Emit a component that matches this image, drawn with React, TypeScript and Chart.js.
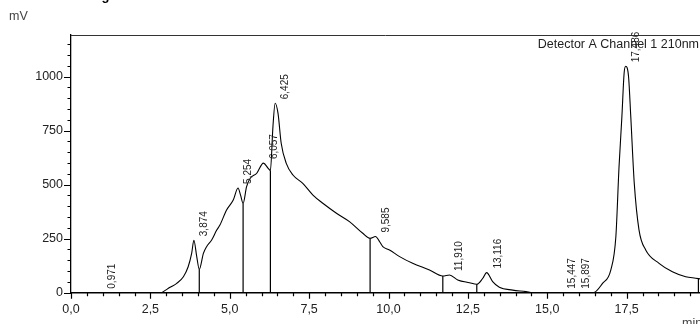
import { useEffect, useRef } from "react";
import { Chart, registerables } from "chart.js";
Chart.register(...registerables);

const FONT = '"Liberation Sans", Arial, Helvetica, sans-serif';

// Chromatogram trace (min, mV)
const timeMin = [
  0, 2.85, 2.91, 3.12, 3.33, 3.54, 3.69, 3.8, 3.87, 3.96, 4.04, 4.17, 4.27, 4.43, 4.59, 4.69, 4.9, 5.11,
  5.26, 5.34, 5.42, 5.53, 5.64, 5.85, 6.06, 6.21, 6.28, 6.36, 6.43, 6.52, 6.62, 6.78, 6.99, 7.3, 7.62,
  7.93, 8.36, 8.77, 9.19, 9.42, 9.59, 9.72, 9.82, 10.03, 10.35, 10.76, 11.29, 11.71, 11.92, 12.18,
  12.55, 12.78, 12.97, 13.09, 13.28, 13.49, 13.91, 14.33, 14.54, 16.45, 16.74, 17.0, 17.16, 17.26,
  17.35, 17.42, 17.47, 17.56, 17.63, 17.74, 17.89, 18.1, 18.52, 18.94, 19.36, 19.67, 19.81,
];
const signalMv = [
  0, 0, 5, 25, 43, 74, 120, 182, 243, 167, 108, 182, 213, 244, 290, 313, 383, 429,
  485, 452, 414, 491, 529, 553, 600, 576, 566, 769, 877, 830, 692, 599, 545, 506, 452,
  414, 368, 329, 275, 252, 260, 236, 213, 198, 167, 136, 105, 77, 82, 59,
  46, 39, 67, 93, 51, 25, 12, 5, 0, 0, 43, 105, 259, 583,
  815, 1016, 1048, 1000, 815, 506, 290, 198, 136, 97, 74, 67, 64,
];

// Peak separation drop lines
const dropTimes = [4.04, 5.42, 6.28, 9.42, 11.71, 12.78, 19.76];
const dropHeights = [108, 414, 566, 252, 77, 39, 66];

// Peak labels
const peakTimes = [0.971, 3.874, 5.254, 6.057, 6.425, 9.585, 11.91, 13.116, 15.447, 15.897, 17.486];
const peakHeights = [0, 243, 485, 600, 877, 260, 82, 93, 0, 0, 1048];
const peakLabels = ["0,971", "3,874", "5,254", "6,057", "6,425", "9,585", "11,910", "13,116", "15,447", "15,897", "17,486"];

// Axes
const xTickValues = [0, 2.5, 5, 7.5, 10, 12.5, 15, 17.5];
const xTickLabels = ["0,0", "2,5", "5,0", "7,5", "10,0", "12,5", "15,0", "17,5"];
const yTickValues = [0, 250, 500, 750, 1000];
const yTickLabels = ["0", "250", "500", "750", "1000"];

const overlay = {
  id: "overlay",
  afterDraw(chart: any) {
    const { ctx, chartArea, scales } = chart;
    const x = scales.x;
    const y = scales.y;
    ctx.save();
    // top frame line
    ctx.strokeStyle = "#333";
    ctx.lineWidth = 1;
    ctx.beginPath();
    ctx.moveTo(chartArea.left, 35.5);
    ctx.lineTo(chartArea.right, 35.5);
    ctx.stroke();

    // tick marks
    ctx.strokeStyle = "#000";
    ctx.lineWidth = 1.2;
    ctx.beginPath();
    for (let i = 0; i <= 39; i++) {
      const v = i * 0.5;
      const major = i % 5 === 0;
      const px = Math.round(x.getPixelForValue(v)) + 0.5;
      ctx.moveTo(px, chartArea.bottom);
      ctx.lineTo(px, chartArea.bottom + (major ? 6 : 3.5));
    }
    for (let i = 0; i <= 23; i++) {
      const v = i * 50;
      const major = i % 5 === 0;
      const py = Math.round(y.getPixelForValue(v)) + 0.5;
      ctx.moveTo(chartArea.left, py);
      ctx.lineTo(chartArea.left - (major ? 7 : 3.5), py);
    }
    ctx.stroke();

    // peak labels
    ctx.fillStyle = "#222";
    ctx.font = `10px ${FONT}`;
    ctx.textAlign = "left";
    ctx.textBaseline = "middle";
    peakTimes.forEach((t, i) => {
      const px = x.getPixelForValue(t) + 10.5;
      const py = y.getPixelForValue(peakHeights[i]) - 4;
      ctx.save();
      ctx.translate(px, py);
      ctx.rotate(-Math.PI / 2);
      ctx.fillText(peakLabels[i], 0, 0);
      ctx.restore();
    });

    // texts
    ctx.font = `12.5px ${FONT}`;
    ctx.fillStyle = "#222";
    ctx.textBaseline = "alphabetic";
    ctx.textAlign = "right";
    ctx.fillText("Detector A Channel 1 210nm", 699, 48);
    ctx.textAlign = "left";
    ctx.fillStyle = "#444";
    ctx.fillText("mV", 9, 20);
    ctx.fillText("min", 682, 327);
    ctx.fillStyle = "#000";
    ctx.font = `bold 13px ${FONT}`;
    ctx.fillText("Chromatogram", 40, 0);
    ctx.restore();
  },
};

export default function App() {
  const ref = useRef<HTMLCanvasElement>(null);
  useEffect(() => {
    if (!ref.current) return;
    const main = timeMin.map((t, i) => ({ x: t, y: signalMv[i] }));
    const drops = dropTimes.map((t, i) => ({
      data: [
        { x: t, y: 0 },
        { x: t, y: dropHeights[i] },
      ],
      borderColor: "#000",
      borderWidth: 1.2,
      pointRadius: 0,
      tension: 0,
    }));
    const chart = new Chart(ref.current, {
      type: "line",
      data: {
        datasets: [
          {
            data: main,
            borderColor: "#000",
            borderWidth: 1.1,
            pointRadius: 0,
            cubicInterpolationMode: "monotone",
          } as any,
          ...drops,
        ],
      },
      options: {
        responsive: false,
        animation: false,
        events: [],
        layout: { padding: { top: 35, left: 0, right: 0, bottom: 0 } },
        plugins: { legend: { display: false }, tooltip: { enabled: false }, title: { display: false } },
        scales: {
          x: {
            type: "linear",
            min: 0,
            max: 19.81,
            grid: { display: false, drawTicks: false },
            border: { display: true, color: "#000", width: 1.5 },
            afterBuildTicks: (s: any) => {
              s.ticks = xTickValues.map((v) => ({ value: v }));
            },
            afterFit: (s: any) => {
              s.height = 31.3;
            },
            ticks: {
              autoSkip: false,
              maxRotation: 0,
              padding: 9,
              color: "#222",
              font: { family: FONT, size: 12.5 },
              callback: (v: any) => {
                const i = xTickValues.indexOf(Number(v));
                return i >= 0 ? xTickLabels[i] : "";
              },
            },
          },
          y: {
            type: "linear",
            min: 0,
            max: 1193,
            grid: { display: false, drawTicks: false },
            border: { display: true, color: "#000", width: 1.3 },
            afterBuildTicks: (s: any) => {
              s.ticks = yTickValues.map((v) => ({ value: v }));
            },
            afterFit: (s: any) => {
              s.width = 71;
            },
            ticks: {
              autoSkip: false,
              padding: 8,
              color: "#222",
              font: { family: FONT, size: 12.5 },
              callback: (v: any) => {
                const i = yTickValues.indexOf(Number(v));
                return i >= 0 ? yTickLabels[i] : "";
              },
            },
          },
        },
      },
      plugins: [overlay],
    });
    return () => chart.destroy();
  }, []);
  return (
    <div style={{ position: "absolute", left: 0, top: 0, width: 700, height: 324 }}>
      <canvas ref={ref} width={700} height={324} style={{ display: "block" }} />
    </div>
  );
}
